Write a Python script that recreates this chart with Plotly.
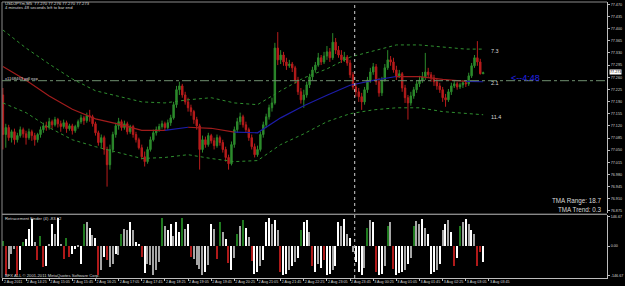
import plotly.graph_objects as go

# ---------------- DATA ----------------
BARS = list(range(167))

OPEN = [77.209,77.095,77.115,77.086,77.103,77.080,77.092,77.109,77.097,77.086,
        77.103,77.092,77.080,77.095,77.109,77.120,77.115,77.132,77.123,77.138,
        77.126,77.118,77.129,77.112,77.120,77.106,77.118,77.132,77.143,77.135,
        77.149,77.146,77.126,77.100,77.072,77.086,77.052,77.008,77.052,77.095,
        77.120,77.132,77.115,77.126,77.103,77.118,77.095,77.080,77.057,77.031,
        77.017,77.052,77.080,77.100,77.109,77.118,77.126,77.115,77.129,77.143,
        77.181,77.224,77.235,77.209,77.189,77.172,77.161,77.138,77.120,77.052,
        77.080,77.066,77.092,77.077,77.063,77.086,77.072,77.052,77.029,77.011,
        77.066,77.109,77.132,77.146,77.123,77.109,77.086,77.060,77.037,77.052,
        77.095,77.123,77.146,77.172,77.186,77.344,77.310,77.324,77.304,77.293,
        77.298,77.287,77.252,77.218,77.195,77.209,77.238,77.261,77.281,77.295,
        77.316,77.304,77.321,77.333,77.316,77.361,77.338,77.324,77.310,77.318,
        77.301,77.267,77.232,77.218,77.204,77.189,77.224,77.252,77.275,77.290,
        77.247,77.215,77.252,77.287,77.310,77.304,77.281,77.261,77.270,77.229,
        77.201,77.186,77.206,77.224,77.241,77.252,77.261,77.275,77.267,77.258,
        77.247,77.235,77.224,77.201,77.195,77.218,77.235,77.241,77.232,77.238,
        77.244,77.241,77.264,77.293,77.316,77.304,77.270]

HIGH = [77.229,77.126,77.123,77.109,77.112,77.100,77.118,77.115,77.106,77.112,
        77.109,77.100,77.100,77.118,77.129,77.132,77.143,77.138,77.146,77.143,
        77.135,77.138,77.135,77.126,77.126,77.123,77.138,77.152,77.149,77.158,
        77.166,77.152,77.132,77.106,77.095,77.092,77.060,77.066,77.103,77.129,
        77.143,77.138,77.135,77.132,77.123,77.123,77.103,77.086,77.066,77.046,
        77.060,77.089,77.109,77.118,77.126,77.135,77.132,77.138,77.152,77.189,
        77.235,77.247,77.241,77.218,77.201,77.181,77.166,77.146,77.126,77.092,
        77.089,77.100,77.097,77.086,77.095,77.092,77.080,77.060,77.037,77.075,
        77.118,77.143,77.158,77.152,77.132,77.115,77.095,77.069,77.063,77.103,
        77.132,77.155,77.181,77.201,77.359,77.390,77.338,77.333,77.316,77.310,
        77.304,77.293,77.261,77.229,77.224,77.247,77.270,77.290,77.304,77.330,
        77.324,77.333,77.350,77.344,77.387,77.373,77.350,77.338,77.333,77.324,
        77.310,77.275,77.244,77.229,77.215,77.232,77.261,77.287,77.301,77.298,
        77.258,77.261,77.298,77.338,77.321,77.316,77.293,77.281,77.275,77.238,
        77.209,77.218,77.232,77.252,77.264,77.275,77.330,77.287,77.275,77.267,
        77.258,77.244,77.232,77.212,77.226,77.244,77.250,77.247,77.244,77.252,
        77.252,77.273,77.301,77.324,77.364,77.313,77.276]

LOW = [77.052,77.057,77.077,77.072,77.066,77.072,77.086,77.086,77.066,77.080,
       77.077,77.063,77.072,77.086,77.100,77.106,77.109,77.112,77.118,77.115,
       77.103,77.112,77.100,77.106,77.095,77.100,77.112,77.126,77.123,77.129,
       77.132,77.118,77.092,77.063,77.057,77.037,76.945,76.994,77.043,77.086,
       77.109,77.106,77.109,77.095,77.097,77.086,77.072,77.052,77.023,77.003,
       77.011,77.046,77.075,77.092,77.103,77.112,77.106,77.109,77.120,77.138,
       77.172,77.209,77.201,77.181,77.161,77.149,77.126,77.109,76.994,77.043,
       77.057,77.060,77.069,77.052,77.057,77.063,77.043,77.017,76.994,77.006,
       77.057,77.100,77.123,77.115,77.100,77.077,77.052,77.029,77.031,77.046,
       77.086,77.115,77.138,77.161,77.181,77.295,77.298,77.293,77.281,77.287,
       77.275,77.241,77.209,77.184,77.172,77.201,77.229,77.252,77.273,77.290,
       77.295,77.298,77.310,77.304,77.310,77.327,77.316,77.301,77.304,77.293,
       77.258,77.224,77.204,77.189,77.166,77.181,77.215,77.244,77.267,77.238,
       77.204,77.206,77.247,77.281,77.293,77.273,77.252,77.258,77.218,77.186,
       77.138,77.178,77.198,77.215,77.232,77.244,77.252,77.258,77.247,77.235,
       77.224,77.215,77.189,77.175,77.189,77.209,77.229,77.224,77.226,77.229,
       77.232,77.235,77.258,77.287,77.293,77.268,77.270]

CLOSE = [77.095,77.115,77.086,77.103,77.080,77.092,77.109,77.097,77.086,77.103,
         77.092,77.080,77.095,77.109,77.120,77.115,77.132,77.123,77.138,77.126,
         77.118,77.129,77.112,77.120,77.106,77.118,77.132,77.143,77.135,77.149,
         77.146,77.126,77.100,77.072,77.086,77.052,77.008,77.052,77.095,77.120,
         77.132,77.115,77.126,77.103,77.118,77.095,77.080,77.057,77.031,77.017,
         77.052,77.080,77.100,77.109,77.118,77.126,77.115,77.129,77.143,77.181,
         77.224,77.235,77.209,77.189,77.172,77.161,77.138,77.120,77.052,77.080,
         77.066,77.092,77.077,77.063,77.086,77.072,77.052,77.029,77.011,77.066,
         77.109,77.132,77.146,77.123,77.109,77.086,77.060,77.037,77.052,77.095,
         77.123,77.146,77.172,77.186,77.344,77.310,77.324,77.304,77.293,77.298,
         77.287,77.252,77.218,77.195,77.209,77.238,77.261,77.281,77.295,77.316,
         77.304,77.321,77.333,77.316,77.361,77.338,77.324,77.310,77.318,77.301,
         77.267,77.232,77.218,77.204,77.189,77.224,77.252,77.275,77.290,77.247,
         77.215,77.252,77.287,77.310,77.304,77.281,77.261,77.270,77.229,77.201,
         77.186,77.206,77.224,77.241,77.252,77.261,77.275,77.267,77.258,77.247,
         77.235,77.224,77.201,77.195,77.218,77.235,77.241,77.232,77.238,77.244,
         77.241,77.264,77.293,77.316,77.304,77.270,77.273]

# TMA bands, sampled every 8 bars
BAND_BARS = [0, 8, 16, 24, 32, 40, 48, 56, 64, 72, 80, 88, 96, 104, 112, 120,
             128, 136, 144, 152, 160, 166]
UPPER = [77.396, 77.344, 77.298, 77.255, 77.221, 77.206, 77.189, 77.186, 77.195,
         77.201, 77.186, 77.181, 77.221, 77.258, 77.284, 77.318, 77.336, 77.353,
         77.353, 77.347, 77.341, 77.341]
CENTER = [77.291, 77.251, 77.206, 77.168, 77.140, 77.125, 77.107, 77.107, 77.116,
          77.113, 77.102, 77.100, 77.143, 77.178, 77.208, 77.237, 77.251, 77.262,
          77.262, 77.254, 77.248, 77.247]
LOWER = [77.186, 77.158, 77.115, 77.080, 77.060, 77.043, 77.026, 77.029, 77.037,
         77.026, 77.017, 77.020, 77.066, 77.097, 77.132, 77.155, 77.166, 77.172,
         77.172, 77.161, 77.155, 77.152]
# trend of each centre-line interval: d = down (red), u = up (blue)
CENTER_TREND = ["d","d","d","d","d","d","d","u","d","d","u","u","u","u","u","u",
                "u","d","d","d","u"]

# Retracement Finder histogram
HIST = [27,-146,-115,-40,-15,-146,-123,18,35,85,
        135,18,-73,52,-107,-100,10,110,60,138,
        5,-65,38,-57,-40,-15,-5,-90,110,122,
        88,55,38,-146,-123,-57,-73,-107,-90,-40,
        -48,60,85,80,122,80,18,10,-57,-135,
        -90,-98,-145,-123,-82,140,102,82,110,52,
        122,68,138,85,110,-57,-65,-98,-115,-145,
        -130,-98,110,85,-65,122,70,35,-85,-120,
        -60,60,100,130,90,45,-75,-140,-130,-100,
        -70,120,140,110,130,80,-130,-145,-140,-120,
        -100,-80,-60,80,120,130,70,-100,-130,-90,
        -110,-70,-145,-140,-120,-100,120,100,135,60,
        40,-30,-80,-130,-145,-110,90,130,120,-130,
        -145,-140,-100,100,120,-115,-145,-135,-130,-120,
        -90,-60,100,125,110,135,90,60,-140,-130,
        -120,-90,80,110,130,70,-100,-60,100,120,
        135,110,80,60,-100,-30,-83.12]
HIST_KIND = list("GRSSSRWGWW"
                 "WSRGRWSWSW"
                 "SRGRWWSWGS"
                 "WSWRSWRSSW"
                 "SGSSWSWWRW"
                 "SSSSSGSWWS"
                 "WWGSWRSSSS"
                 "WSWSRGSWRW"
                 "SGSGWSRWWS"
                 "WWWSWSRWWS"
                 "WSWGWWSRWS"
                 "WRWWSWWSWS"
                 "WSWWWSGSWR"
                 "WWSGSRWWWS"
                 "WSGSSWSWWW"
                 "SWSWSWRWGS"
                 "WSWSRRW")

TIME_TICKS = [0, 8, 16, 24, 32, 40, 48, 56, 64, 72, 80, 88, 96, 104, 112, 120,
              128, 136, 144, 152, 160, 168]
TIME_LABELS = ["2 Aug 2011", "2 Aug 14:25", "2 Aug 15:05", "2 Aug 15:45",
               "2 Aug 16:25", "2 Aug 17:05", "2 Aug 17:45", "2 Aug 18:25",
               "2 Aug 19:05", "2 Aug 19:45", "2 Aug 20:25", "2 Aug 21:05",
               "2 Aug 21:45", "2 Aug 22:25", "2 Aug 23:05", "2 Aug 23:45",
               "3 Aug 00:25", "3 Aug 01:05", "3 Aug 01:45", "3 Aug 02:25",
               "3 Aug 03:05", "3 Aug 03:45"]
PRICE_TICKS = ["77.470", "77.435", "77.400", "77.365", "77.330", "77.295", "77.260",
               "77.225", "77.190", "77.155", "77.120", "77.085", "77.050", "77.015",
               "76.980", "76.945", "76.910", "76.875"]
HIST_TICKS = ["146.67", "0.00", "-146.67"]

VLINE_BAR = 121.6
PDL_LEVEL = 77.250
BAND_TEXT = ["7.3", "2.1", "11.4"]
assert len(OPEN) == len(HIGH) == len(LOW) == len(CLOSE) == len(HIST) == len(HIST_KIND) == 167

# ---------------- STYLE ----------------
W, H = 625, 286
L, R, T, B = 2, 14, 2, 7
PW, PH = W - L - R, H - T - B
FONT = "Liberation Sans, Arial, sans-serif"
GREEN = "#2c8a2c"
RED = "#b81c1c"
AX = "#bdbdbd"
TXT = "#d8d8d8"
KCOL = {"G": "#1f7a1f", "R": "#b01a1a", "W": "#ffffff", "S": "#a6a6a6"}


def px(xp):
    return (xp - L) / PW


def py(yp):
    return (H - B - yp) / PH


main_dom = [py(214), 1]
ind_dom = [0, py(216)]
XR = [-0.31, 208.8]

fig = go.Figure()
fig.add_trace(go.Candlestick(
    x=BARS, open=OPEN, high=HIGH, low=LOW, close=CLOSE,
    increasing=dict(line=dict(color=GREEN, width=1), fillcolor=GREEN),
    decreasing=dict(line=dict(color=RED, width=1), fillcolor=RED),
    whiskerwidth=0, showlegend=False, xaxis="x", yaxis="y"))

for band in (UPPER, LOWER):
    fig.add_trace(go.Scatter(x=BAND_BARS, y=band, mode="lines",
                             line=dict(color="#2f8f2f", width=1, dash="dot"),
                             showlegend=False, hoverinfo="skip", xaxis="x", yaxis="y"))

# centre line segments by trend colour
start = 0
for k in range(1, len(CENTER_TREND) + 1):
    if k == len(CENTER_TREND) or CENTER_TREND[k] != CENTER_TREND[start]:
        col = "#a01c1c" if CENTER_TREND[start] == "d" else "#1c1ca8"
        fig.add_trace(go.Scatter(x=BAND_BARS[start:k + 1], y=CENTER[start:k + 1],
                                 mode="lines", line=dict(color=col, width=1.2),
                                 showlegend=False, hoverinfo="skip",
                                 xaxis="x", yaxis="y"))
        start = k

fig.add_trace(go.Bar(x=BARS, y=HIST, marker=dict(color=[KCOL[k] for k in HIST_KIND], line=dict(width=0)),
                     width=0.45, showlegend=False, xaxis="x2", yaxis="y2"))

tickfont = dict(family=FONT, size=3.7, color=TXT)
fig.update_layout(
    width=W, height=H, margin=dict(l=L, r=R, t=T, b=B),
    paper_bgcolor="black", plot_bgcolor="black", bargap=0,
    font=dict(family=FONT, color=TXT),
    xaxis=dict(domain=[0, 1], anchor="y", range=XR, showticklabels=False,
               showgrid=False, zeroline=False, rangeslider=dict(visible=False),
               ticks=""),
    xaxis2=dict(domain=[0, 1], anchor="y2", range=XR, matches="x",
                tickvals=TIME_TICKS, ticktext=TIME_LABELS, ticks="outside",
                ticklen=2, tickcolor=AX, tickfont=tickfont, tickangle=0,
                ticklabelposition="outside right", showgrid=False, zeroline=False,
                showline=True, linecolor=AX, linewidth=1),
    yaxis=dict(domain=main_dom, anchor="x", side="right",
               range=[76.8684, 77.4766], tickvals=[float(v) for v in PRICE_TICKS],
               ticktext=PRICE_TICKS, ticks="outside", ticklen=2, tickcolor=AX,
               tickfont=tickfont, showgrid=False, zeroline=False,
               showline=True, linecolor=AX, linewidth=1),
    yaxis2=dict(domain=ind_dom, anchor="x2", side="right",
                range=[-160.2, 155.2], tickvals=[float(v) for v in HIST_TICKS],
                ticktext=HIST_TICKS, ticks="outside", ticklen=2, tickcolor=AX,
                tickfont=tickfont, showgrid=False, zeroline=False,
                showline=True, linecolor=AX, linewidth=1),
)

shapes = [
    # separator between panels
    dict(type="line", xref="paper", yref="paper", x0=0, x1=1, y0=py(215), y1=py(215),
         line=dict(color=AX, width=1)),
    # left & top border
    dict(type="line", xref="paper", yref="paper", x0=0, x1=0, y0=0, y1=1,
         line=dict(color="#8a8a8a", width=1)),
    dict(type="line", xref="paper", yref="paper", x0=0, x1=1, y0=1, y1=1,
         line=dict(color="#8a8a8a", width=1)),
    # pdl level dash-dot
    dict(type="line", xref="paper", yref="y", x0=0, x1=1, y0=PDL_LEVEL, y1=PDL_LEVEL,
         line=dict(color="#6f8f6f", width=1, dash="dashdot")),
    # vertical dotted line
    dict(type="line", xref="x", yref="paper", x0=VLINE_BAR, x1=VLINE_BAR, y0=0, y1=1,
         line=dict(color="#d0d0d0", width=1, dash="dot")),
]
fig.update_layout(shapes=shapes)


def txt(x, y, s, size=4.2, color=TXT, xanchor="left", bg=None, fcolor=None):
    a = dict(x=px(x), y=py(y), xref="paper", yref="paper", text=s, showarrow=False,
             xanchor=xanchor, yanchor="middle",
             font=dict(family=FONT, size=size, color=fcolor or color))
    if bg:
        a["bgcolor"] = bg
        a["borderpad"] = 0
    return a


ann = [
    txt(3, 3.5, "USDJPYm,M5  %.3f %.3f %.3f %.3f" % (OPEN[-1], HIGH[-1], LOW[-1], CLOSE[-1])),
    txt(3, 8, "4 minutes 48 seconds left to bar end"),
    txt(3, 78.5, "x1168463 pdl exp"),
    txt(492, 51, BAND_TEXT[0], size=5.5),
    txt(492, 83, BAND_TEXT[1], size=5.5),
    txt(492, 117, BAND_TEXT[2], size=5.5),
    txt(512, 78, "<--4:48", size=9, color="#2222e6"),
    txt(608, 202, "TMA Range: 18.7", size=6.3, xanchor="right"),
    txt(608, 210, "TMA Trend: 0.3", size=6.3, xanchor="right"),
    txt(3, 219, "Retracement Finder (4) %.2f" % HIST[-1]),
    txt(3, 276, "BFX ALL \u00a9 2001-2011 MetaQuotes Software Corp."),
    txt(613, 72.5, "%.3f" % CLOSE[-1], size=3.7, bg="white", fcolor="black"),
]
fig.update_layout(annotations=ann)

fig.write_html("out.html")
